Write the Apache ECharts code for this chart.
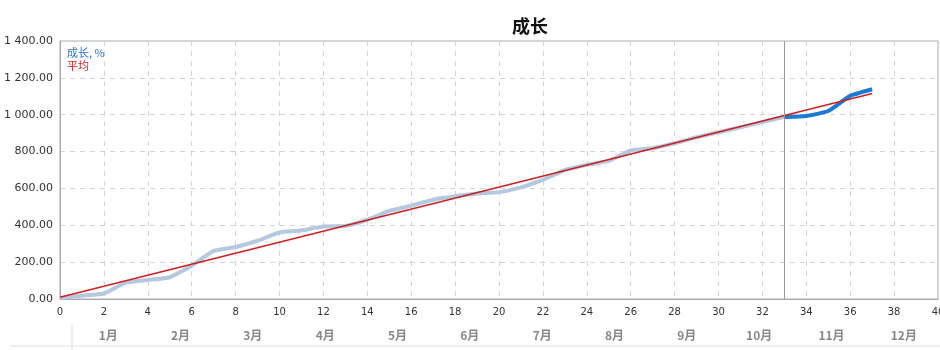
<!DOCTYPE html>
<html>
<head>
<meta charset="utf-8">
<style>
  html, body { margin: 0; padding: 0; background: #fff; }
  #chart { width: 940px; height: 350px; }
</style>
<script src="https://cdn.jsdelivr.net/npm/echarts@6/dist/echarts.min.js"></script>
</head>
<body>
<div id="chart"></div>
<script>
// 成长 (历史, x = 0..33)
var pastValues = [5, 18, 30, 89, 103, 118, 180, 261, 282, 316, 361, 372, 394, 396,
  430, 478, 506, 539, 557, 572, 580, 606, 646, 700, 728, 750, 806, 818,
  845, 878, 905, 932, 960, 988];
// 成长 (最近, x = 33..37)
var recentStart = 33;
var recentValues = [988, 993, 1020, 1102, 1138];
// 平均 (两端点)
var avgX = [0, 37];
var avgValues = [10, 1115];
var months = ["1月", "2月", "3月", "4月", "5月", "6月", "7月", "8月", "9月", "10月", "11月", "12月"];
var splitX = 33;

(function() {
  var myChart = echarts.init(document.getElementById("chart"));
  var font = "'DejaVu Sans', 'Noto Sans CJK SC', sans-serif";

  function fmt(v) {
    var s = v.toFixed(2).split(".");
    return s[0].replace(/\B(?=(\d{3})+(?!\d))/g, " ") + "." + s[1];
  }

  var option = {
    animation: false,
    textStyle: { fontFamily: font },
    title: {
      text: "成长",
      left: 507,
      top: 12,
      textStyle: { fontSize: 18, fontWeight: "bold", color: "#111", fontFamily: "'Noto Sans CJK SC', sans-serif" }
    },
    legend: {
      orient: "vertical",
      left: 62,
      top: 42,
      itemWidth: 0,
      itemHeight: 0,
      itemGap: 2,
      selectedMode: false,
      data: [
        { name: "成长, %", icon: "rect", textStyle: { color: "#2a73b8" } },
        { name: "平均", icon: "rect", textStyle: { color: "#c62828" } }
      ],
      textStyle: { fontSize: 11, padding: [0, 0, 0, -5], fontFamily: "'Noto Sans CJK SC', sans-serif" }
    },
    grid: [
      { left: 60, right: 2, top: 41, bottom: 51, show: true, borderColor: "#aaa", borderWidth: 1,
        outerBoundsMode: "none", containLabel: false },
      { left: 72, right: 0, top: 322, height: 24, outerBoundsMode: "none" }
    ],
    xAxis: [
      {
        type: "value",
        gridIndex: 0,
        min: 0,
        max: 40,
        interval: 2,
        axisLine: { show: true, lineStyle: { color: "#aaa" } },
        axisTick: { show: false },
        axisLabel: { color: "#333", fontSize: 10, margin: 8 },
        splitLine: { show: true, lineStyle: { color: "#d4d4d4", type: [5, 5] } }
      },
      {
        type: "category",
        gridIndex: 1,
        data: months,
        axisLine: { show: false },
        axisTick: { show: false },
        axisLabel: { inside: true, color: "#888", fontSize: 12, fontWeight: "bold", margin: 5,
          fontFamily: "'Noto Sans CJK SC', sans-serif" },
        splitLine: { show: false }
      }
    ],
    yAxis: [
      {
        type: "value",
        gridIndex: 0,
        min: 0,
        max: 1400,
        interval: 200,
        axisLine: { show: true, lineStyle: { color: "#aaa" } },
        axisTick: { show: false },
        axisLabel: { color: "#333", fontSize: 11, margin: 7, formatter: fmt },
        splitLine: { show: true, lineStyle: { color: "#d4d4d4", type: [5, 5] } }
      },
      { type: "value", gridIndex: 1, show: false }
    ],
    graphic: [
      { type: "line", silent: true, shape: { x1: 10, y1: 346, x2: 940, y2: 346 }, style: { stroke: "#ddd", lineWidth: 1 } },
      { type: "line", silent: true, shape: { x1: 72, y1: 324, x2: 72, y2: 350 }, style: { stroke: "#ddd", lineWidth: 1 } }
    ],
    series: [
      {
        name: "历史",
        type: "line",
        smooth: 0.15,
        showSymbol: false,
        lineStyle: { color: "#b4c8e0", width: 4 },
        itemStyle: { color: "#b4c8e0" },
        data: pastValues.map(function(v, i) { return [i, v]; }),
        z: 2
      },
      {
        name: "成长, %",
        type: "line",
        smooth: 0.15,
        showSymbol: false,
        lineStyle: { color: "#1a7ad6", width: 4 },
        itemStyle: { color: "#1a7ad6" },
        data: recentValues.map(function(v, i) { return [recentStart + i, v]; }),
        markLine: {
          silent: true,
          symbol: "none",
          label: { show: false },
          lineStyle: { color: "#999", type: "solid", width: 1 },
          data: [{ xAxis: splitX }]
        },
        z: 3
      },
      {
        name: "平均",
        type: "line",
        showSymbol: false,
        lineStyle: { color: "#cc1f1f", width: 1.5 },
        itemStyle: { color: "#cc1f1f" },
        data: avgX.map(function(x, i) { return [x, avgValues[i]]; }),
        z: 4
      }
    ]
  };
  myChart.setOption(option);
  window.addEventListener("resize", function() {
    myChart.resize();
  });
})();
</script>
</body>
</html>
